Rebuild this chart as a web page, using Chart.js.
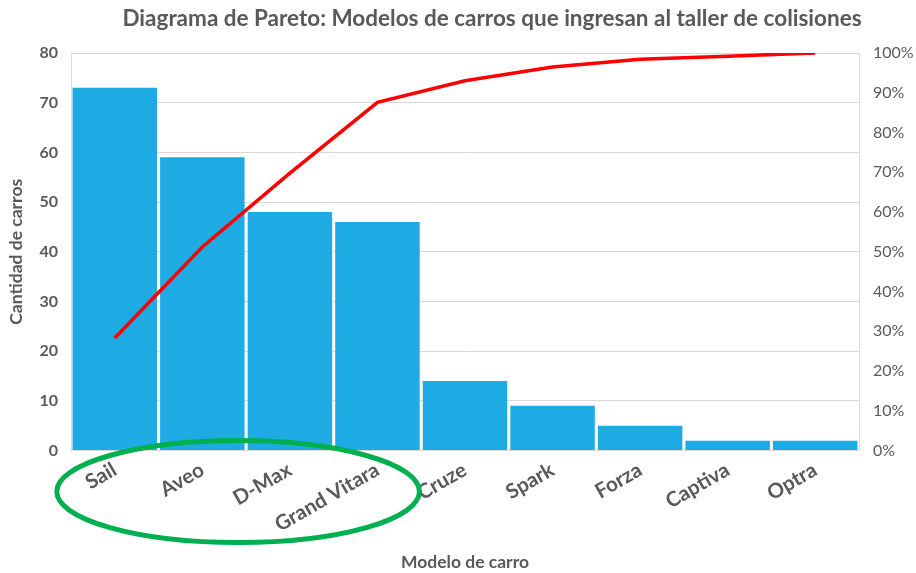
<!DOCTYPE html>
<html>
<head>
<meta charset="utf-8">
<script src="https://cdn.jsdelivr.net/npm/chart.js@4"></script>
<style>
  html, body { margin: 0; padding: 0; background: #fff; }
  #wrap { width: 916px; height: 573px; }
</style>
</head>
<body>
<div id="wrap"><canvas id="paretoChart" width="916" height="573"></canvas></div>
<script>
// Datos
const modelos = ["Sail", "Aveo", "D-Max", "Grand Vitara", "Cruze", "Spark", "Forza", "Captiva", "Optra"];
const cantidades = [73, 59, 48, 46, 14, 9, 5, 2, 2];
// porcentaje acumulado (%)
const acumulado = [28.3, 51.2, 69.8, 87.6, 93.0, 96.5, 98.4, 99.2, 100];
const ticksIzq = [0, 10, 20, 30, 40, 50, 60, 70, 80];
const titulo = "Diagrama de Pareto: Modelos de carros que ingresan al taller de colisiones";

const fuente = "Lato, 'Open Sans', sans-serif";
const gris = "#595959";

// titulo dibujado a mano (en el original esta algo corrido a la derecha)
const tituloPlugin = {
  id: "tituloPropio",
  afterDraw(chart) {
    const ctx = chart.ctx;
    ctx.save();
    ctx.font = "bold 22.5px " + fuente;
    ctx.fillStyle = gris;
    ctx.textAlign = "center";
    ctx.textBaseline = "middle";
    ctx.fillText(titulo, chart.width / 2 + 34, 19);
    ctx.restore();
  }
};

// elipse verde sobre las primeras cuatro etiquetas
const elipsePlugin = {
  id: "elipse",
  afterDraw(chart) {
    const x = chart.scales.x;
    const y = chart.scales.y;
    const x0 = x.getPixelForValue(0);
    const x3 = x.getPixelForValue(3);
    const ctx = chart.ctx;
    ctx.save();
    ctx.beginPath();
    ctx.ellipse((x0 + x3) / 2 - 8, y.bottom + 41, (x3 - x0) / 2 + 50, 51, 0, 0, Math.PI * 2);
    ctx.strokeStyle = "#00B050";
    ctx.lineWidth = 5;
    ctx.stroke();
    ctx.restore();
  }
};

const ctx = document.getElementById("paretoChart").getContext("2d");
new Chart(ctx, {
  data: {
    labels: modelos,
    datasets: [
      {
        type: "line",
        label: "% acumulado",
        data: acumulado,
        yAxisID: "y2",
        borderColor: "#FF0000",
        backgroundColor: "#FF0000",
        borderWidth: 3.5,
        pointRadius: 0,
        tension: 0,
        order: 0
      },
      {
        type: "bar",
        label: "Cantidad de carros",
        data: cantidades,
        yAxisID: "y",
        backgroundColor: "#1EABE3",
        barPercentage: 0.965,
        categoryPercentage: 1,
        order: 1
      }
    ]
  },
  options: {
    responsive: false,
    animation: false,
    layout: { padding: { left: 6, right: 0, top: 53, bottom: 0 } },
    plugins: {
      legend: { display: false },
      tooltip: { enabled: false },
      title: { display: false }
    },
    scales: {
      x: {
        grid: { display: false, drawTicks: false },
        border: { display: true, color: "#D9D9D9" },
        ticks: {
          color: gris,
          font: { family: fuente, size: 20.5, weight: "bold" },
          maxRotation: 30,
          minRotation: 30,
          padding: 7
        },
        title: {
          display: true,
          text: "Modelo de carro",
          color: gris,
          font: { family: fuente, size: 17.5, weight: "bold" },
          padding: { top: 8, bottom: 0 }
        }
      },
      y: {
        position: "left",
        min: 0,
        max: 80,
        afterBuildTicks(axis) { axis.ticks = ticksIzq.map(v => ({ value: v })); },
        afterFit(axis) { axis.width = 65; },
        grid: { color: "#D9D9D9", drawTicks: false },
        border: { display: true, color: "#D9D9D9" },
        ticks: {
          color: gris,
          font: { family: fuente, size: 16, weight: "bold" },
          padding: 13
        },
        title: {
          display: true,
          text: "Cantidad de carros",
          color: gris,
          font: { family: fuente, size: 17.5, weight: "bold" },
          padding: { top: 0, bottom: 4 }
        }
      },
      y2: {
        position: "right",
        min: 0,
        max: 100,
        afterFit(axis) { axis.width = 57; },
        grid: { display: false, drawTicks: false },
        border: { display: true, color: "#D9D9D9" },
        ticks: {
          stepSize: 10,
          color: gris,
          font: { family: fuente, size: 16 },
          padding: 14,
          callback: v => v + "%"
        }
      }
    }
  },
  plugins: [tituloPlugin, elipsePlugin]
});
</script>
</body>
</html>
